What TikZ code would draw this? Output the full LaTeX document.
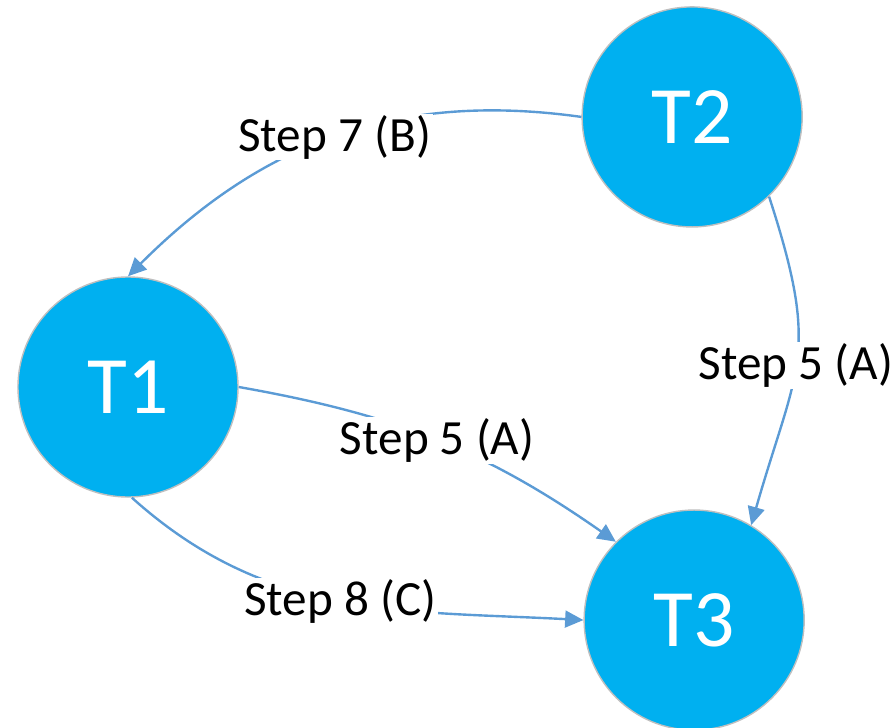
\documentclass[tikz,border=0pt]{standalone}
\usepackage{fontspec}
\setmainfont{Carlito}
\usetikzlibrary{arrows.meta}
\usetikzlibrary{positioning}

\definecolor{taskblue}{HTML}{00B0F0}
\definecolor{linkblue}{HTML}{5B9BD5}

\tikzset{
  task/.style={circle, fill=taskblue, draw=black!25, line width=1pt,
    minimum size=5.5cm, inner sep=0pt, text=white,
    font=\fontsize{58}{70}\selectfont},
  link/.style={draw=linkblue, line width=1.7pt,
    -{Triangle[length=13pt,width=12pt]}},
  steplabel/.style={fill=white, inner sep=1pt, text=black,
    font=\fontsize{35}{42}\selectfont}
}

\begin{document}
\begin{tikzpicture}[x=0.025cm, y=-0.025cm, on grid]
  \useasboundingbox (0,0) rectangle (894,728);
  \node[task] (T1) at (128,387) {T1};
  \node[task] [above right=6.75cm and 14.1cm of T1] (T2) {T2};
  \node[task] [below right=5.825cm and 14.15cm of T1] (T3) {T3};
  \path
    (T2.west) edge[link, out=172, in=45] node[steplabel, pos=0.5] {Step 7 (B)} (T1.north)
    (T2.-46) edge[link, out=-72, in=74, looseness=1.3] node[steplabel, pos=0.52] {Step 5 (A)} (T3.59)
    (T1.east) edge[link, out=-10, in=145] node[steplabel, pos=0.5] {Step 5 (A)} (T3.135)
    (T1.-88) edge[link, out=-42, in=177] node[steplabel, pos=0.5] {Step 8 (C)} (T3.west);
\end{tikzpicture}
\end{document}
